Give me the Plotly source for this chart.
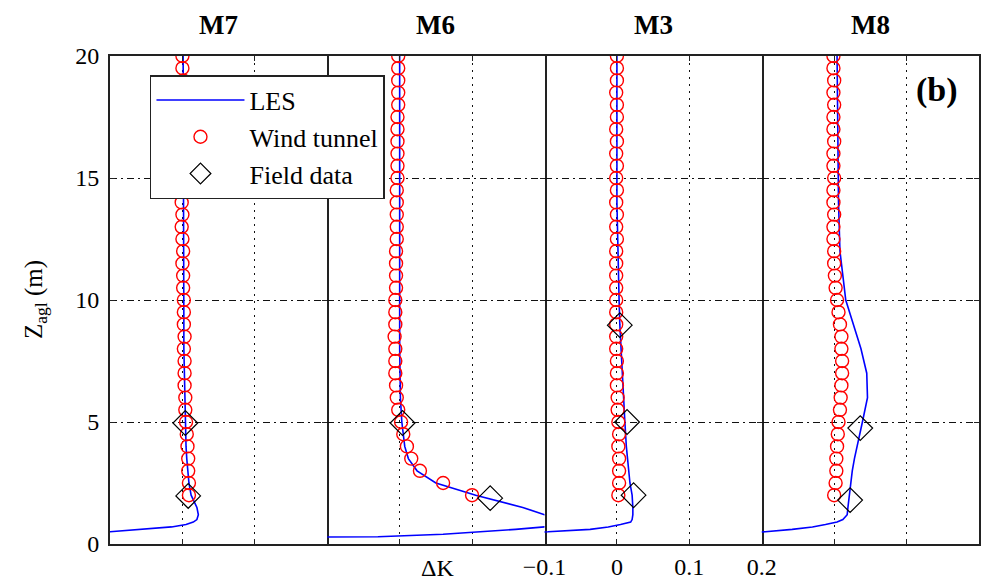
import plotly.graph_objects as go
from plotly.subplots import make_subplots

# ---------------- data ----------------
stations = ["M7", "M6", "M3", "M8"]

# Wind tunnel heights (m)
z_wt = [2.0, 2.5, 3.0, 3.5, 4.0, 4.5, 5.0, 5.5, 6.0, 6.5, 7.0, 7.5, 8.0, 8.5, 9.0, 9.5,
        10.0, 10.5, 11.0, 11.5, 12.0, 12.5, 13.0, 13.5, 14.0, 14.5, 15.0, 15.5, 16.0,
        16.5, 17.0, 17.5, 18.0, 18.5, 19.0, 19.5, 20.0]

wt_m7 = [0.009, 0.009, 0.008, 0.008, 0.007, 0.006, 0.005, 0.004, 0.004, 0.003, 0.003, 0.003,
         0.002, 0.003, 0.002, 0.002, 0.002, 0.001, 0.001, 0.000, 0.001, 0.000, -0.001, 0.000,
         -0.001, 0.000, -0.001, 0.000, -0.001, -0.001, 0.000, -0.001, 0.000, 0.000, 0.001,
         0.000, 0.000]
wt_m6 = [0.100, 0.060, 0.028, 0.016, 0.010, 0.005, 0.002, -0.002, -0.004, -0.005, -0.006,
         -0.006, -0.006, -0.007, -0.006, -0.006, -0.006, -0.005, -0.005, -0.005, -0.005,
         -0.004, -0.004, -0.004, -0.004, -0.004, -0.003, -0.003, -0.003, -0.003, -0.003,
         -0.003, -0.002, -0.002, -0.002, -0.002, -0.002]
wt_m3 = [0.002, 0.003, 0.003, 0.003, 0.002, 0.003, 0.002, 0.001, 0.001, 0.000, 0.000, 0.000,
         -0.001, -0.001, -0.001, -0.001, -0.001, -0.001, -0.001, -0.001, -0.001, 0.000,
         -0.001, 0.000, -0.001, 0.000, -0.001, 0.000, -0.001, 0.000, -0.001, 0.000, 0.000,
         -0.001, 0.000, 0.000, 0.000]
wt_m8 = [0.000, 0.002, 0.003, 0.003, 0.004, 0.005, 0.006, 0.008, 0.009, 0.010, 0.011, 0.011,
         0.010, 0.010, 0.008, 0.006, 0.004, 0.002, 0.001, 0.000, 0.000, -0.001, -0.001,
         0.000, -0.001, -0.001, 0.000, -0.001, -0.001, 0.000, -0.001, -0.001, 0.000, -0.001,
         0.000, -0.001, -0.001]

# LES heights (m)
z_les = [0.2, 0.3, 0.4, 0.5, 0.6, 0.7, 0.8, 0.9, 1.0, 1.2, 1.5, 2.0, 2.5, 3.0, 3.5, 4.0,
         5.0, 6.0, 7.0, 8.0, 9.0, 10.0, 11.0, 12.0, 14.0, 16.0, 18.0, 20.0]

les_m7 = [-0.40, -0.25, -0.16, -0.10, -0.05, -0.015, 0.005, 0.015, 0.020, 0.022, 0.020, 0.012,
          0.009, 0.007, 0.006, 0.005, 0.004, 0.003, 0.003, 0.002, 0.002, 0.002, 0.002, 0.001,
          0.001, 0.001, 0.001, 0.001]
les_m6 = [-0.50, -0.03, 0.06, 0.115, 0.16, 0.20, 0.26, 0.30, 0.30, 0.20, 0.17, 0.105, 0.05,
          0.024, 0.012, 0.007, 0.003, 0.001, 0.0, 0.0, 0.0, 0.0, 0.0, 0.0, 0.0, 0.0, 0.0, 0.0]
les_m3 = [-0.40, -0.30, -0.20, -0.095, -0.037, -0.012, 0.005, 0.019, 0.021, 0.022, 0.022,
          0.021, 0.018, 0.016, 0.014, 0.013, 0.011, 0.009, 0.008, 0.006, 0.004, 0.003, 0.002,
          0.001, 0.000, 0.000, 0.000, 0.000]
les_m8 = [-0.40, -0.30, -0.20, -0.095, -0.058, -0.030, -0.012, 0.004, 0.012, 0.018, 0.019,
          0.021, 0.022, 0.025, 0.028, 0.032, 0.039, 0.046, 0.045, 0.037, 0.027, 0.016, 0.012,
          0.008, 0.006, 0.005, 0.004, 0.004]

# Field data
field_z = {"M7": [1.97, 4.96], "M6": [1.88, 4.96], "M3": [2.0, 5.0, 8.97], "M8": [1.8, 4.75]}
field_dk = {"M7": [0.008, 0.004], "M6": [0.125, 0.004], "M3": [0.023, 0.014, 0.004],
            "M8": [0.022, 0.036]}

wt = {"M7": wt_m7, "M6": wt_m6, "M3": wt_m3, "M8": wt_m8}
les = {"M7": les_m7, "M6": les_m6, "M3": les_m3, "M8": les_m8}

x_ticks = [-0.1, 0, 0.1, 0.2]
x_ticktext = ["\u22120.1", "0", "0.1", "0.2"]
y_ticks = [0, 5, 10, 15, 20]

# ---------------- figure ----------------
FONT = "Liberation Serif"
fig = make_subplots(rows=1, cols=4, shared_yaxes=True, horizontal_spacing=0)

for i, st in enumerate(stations):
    col = i + 1
    first = i == 0
    fig.add_trace(go.Scatter(x=les[st], y=z_les, mode="lines", name="LES",
                             line=dict(color="#0000ff", width=1.6),
                             legendgroup="les", showlegend=first), row=1, col=col)
    fig.add_trace(go.Scatter(x=wt[st], y=z_wt, mode="markers", name="Wind tunnel",
                             marker=dict(symbol="circle-open", size=13,
                                         color="#ff0000", line=dict(width=1.4, color="#ff0000")),
                             legendgroup="wt", showlegend=first), row=1, col=col)
    fig.add_trace(go.Scatter(x=field_dk[st], y=field_z[st], mode="markers", name="Field data",
                             marker=dict(symbol="diamond-open", size=19,
                                         color="#000000", line=dict(width=1.2, color="#000000")),
                             legendgroup="fd", showlegend=first), row=1, col=col)

axis_common = dict(showline=True, linecolor="#222222", linewidth=2,
                   ticks="inside", ticklen=5, tickcolor="#222222", zeroline=False,
                   showgrid=True, gridcolor="#111111", gridwidth=1.3, automargin=False,
                   tickfont=dict(family=FONT, size=24, color="#000000"))

for i in range(4):
    fig.update_xaxes(range=[-0.1, 0.2], tickvals=x_ticks, ticktext=x_ticktext,
                     griddash="2px,5px", mirror="ticks", showticklabels=(i == 2),
                     row=1, col=i + 1, **axis_common)
    if i == 0:
        fig.update_yaxes(range=[0, 20], tickvals=y_ticks, griddash="7px,4px,2px,4px",
                         mirror="ticks", showticklabels=True, ticklabelstandoff=4,
                         row=1, col=1, **axis_common)
    else:
        fig.update_yaxes(range=[0, 20], tickvals=y_ticks, griddash="7px,4px,2px,4px",
                         side="right", mirror=False, showticklabels=False,
                         row=1, col=i + 1, **axis_common)

annotations = []
for i, st in enumerate(stations):
    annotations.append(dict(text="<b>%s</b>" % st, xref="x%s domain" % ("" if i == 0 else i + 1),
                            x=0.5, yref="paper", y=1.0635, showarrow=False,
                            xanchor="center", yanchor="middle",
                            font=dict(family=FONT, size=27, color="#000000")))
annotations.append(dict(text="<b>(b)</b>", xref="paper", yref="paper", x=0.9517, y=0.930,
                        showarrow=False, xanchor="center", yanchor="middle",
                        font=dict(family=FONT, size=34, color="#000000")))
annotations.append(dict(text="\u0394K", xref="paper", yref="paper", x=0.3763, y=-0.078,
                        showarrow=False, xanchor="center", yanchor="bottom", borderpad=0,
                        font=dict(family=FONT, size=24, color="#000000")))
annotations.append(dict(text="Z<sub>agl</sub> (m)", xref="paper", yref="paper", x=-0.0863, y=0.5,
                        textangle=-90, showarrow=False, xanchor="center", yanchor="middle",
                        font=dict(family=FONT, size=25, color="#000000")))

fig.update_layout(
    width=987, height=584,
    margin=dict(l=110, r=8, t=56, b=40, autoexpand=False),
    paper_bgcolor="white", plot_bgcolor="white",
    annotations=annotations,
    legend=dict(x=0.046, y=0.961, xanchor="left", yanchor="top",
                bgcolor="white", bordercolor="#222222", borderwidth=1.5,
                font=dict(family=FONT, size=26, color="#000000"),
                itemwidth=88, tracegroupgap=0),
    showlegend=True,
)

fig.write_html("out.html")
